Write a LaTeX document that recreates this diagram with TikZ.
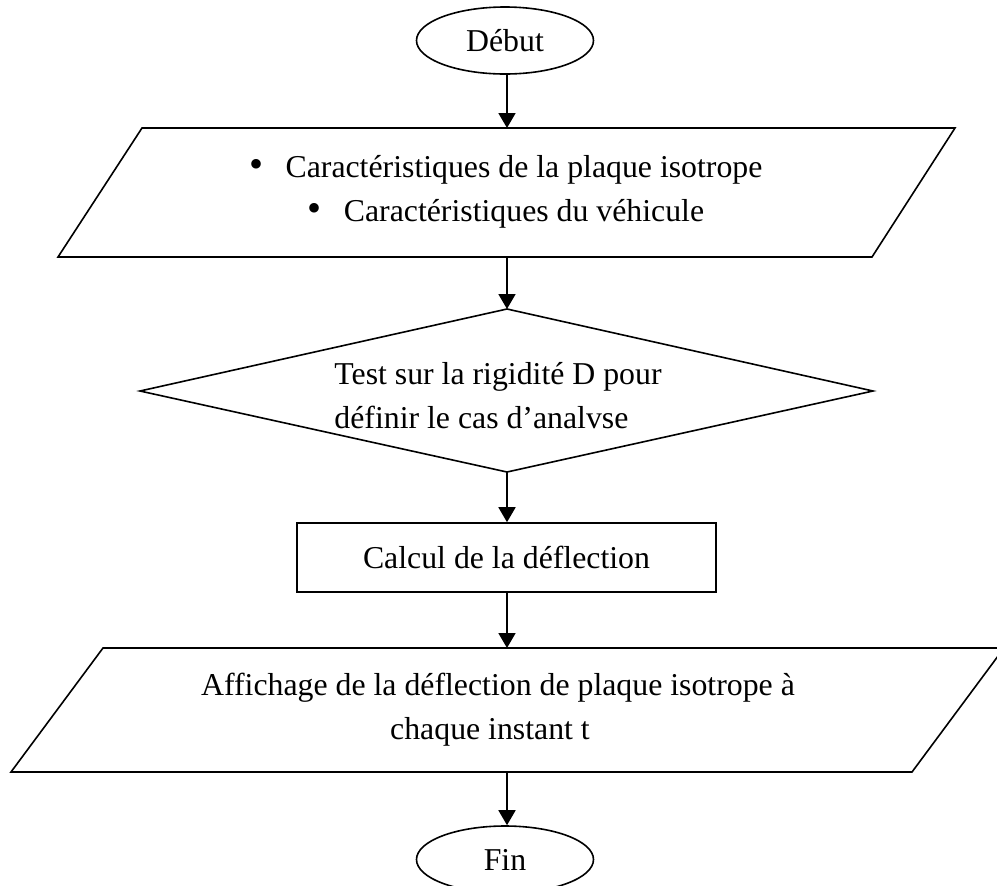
\documentclass[tikz,border=0pt]{standalone}
\usepackage{fontspec}
\setmainfont{Liberation Serif}
\usetikzlibrary{shapes.geometric,arrows.meta}
\tikzset{
  txt/.style={inner sep=0pt, font=\fontsize{15.9}{22}\selectfont},
  shapeline/.style={draw=black, line width=0.8pt},
  flow/.style={draw=black, line width=0.9pt, -{Triangle[width=8.5pt,length=7.5pt]}},
  term/.style={shapeline, ellipse, minimum width=88.5pt, minimum height=33.5pt, inner sep=0pt, font=\fontsize{15.9}{22}\selectfont}
}
\begin{document}
\begin{tikzpicture}[x=0.5pt,y=-0.5pt]
\useasboundingbox (0,0) rectangle (997,885);
% Debut
\node[term] (debut) at (505,40.5) {Début};
% Parallelogram 1
\draw[shapeline] (142,128) -- (955,128) -- (872,257) -- (58,257) -- cycle;
\coordinate (p1top) at (507,128);
\coordinate (p1bot) at (507,257);
\node[txt] (b1) at (506,170) {{\fontsize{20}{22}\selectfont\textbullet}\hspace{11pt}Caractéristiques de la plaque isotrope};
\node[txt] (b2) at (506,214) {{\fontsize{20}{22}\selectfont\textbullet}\hspace{11pt}Caractéristiques du véhicule};
% Diamond
\draw[shapeline] (507,309) -- (873,391) -- (507,472) -- (140,391) -- cycle;
\coordinate (dtop) at (507,309);
\coordinate (dbot) at (507,472);
\node[txt, anchor=west, align=left] (dtext) at (334,396) {Test sur la rigidité D pour\\définir le cas d’analvse};
% Rectangle
\node[shapeline, rectangle, minimum width=209.5pt, minimum height=34.5pt, inner sep=0pt, font=\fontsize{15.9}{22}\selectfont] (calc) at (506.5,557.5) {Calcul de la déflection};
% Parallelogram 2
\draw[shapeline] (103,648) -- (1004,648) -- (912,772) -- (11,772) -- cycle;
\coordinate (p2top) at (507,648);
\coordinate (p2bot) at (507,772);
\node[txt] (a1) at (498,688) {Affichage de la déflection de plaque isotrope à};
\node[txt] (a2) at (490,732) {chaque instant t};
% Fin
\node[term] (fin) at (505,859.5) {Fin};
% Connectors
\draw[flow] (debut.south -| p1top) -- (p1top);
\draw[flow] (p1bot) -- (dtop);
\draw[flow] (dbot) -- (calc.north -| dbot);
\draw[flow] (calc.south -| p2top) -- (p2top);
\draw[flow] (p2bot) -- (fin.north -| p2bot);
\end{tikzpicture}
\end{document}
